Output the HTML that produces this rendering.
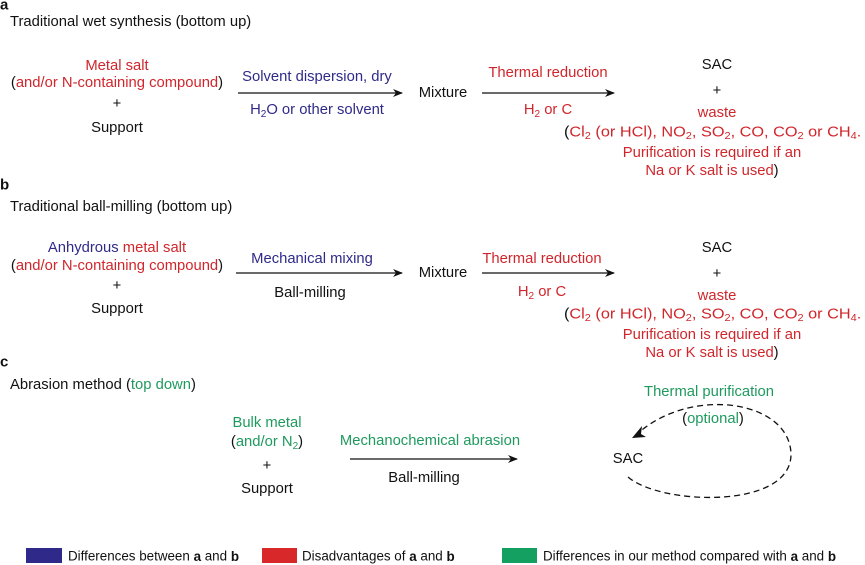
<!DOCTYPE html>
<html><head><meta charset="utf-8"><style>
html,body{margin:0;padding:0;background:#fff;}
svg{display:block;font-family:"Liberation Sans",Arial,sans-serif;font-size:14.8px;}
.r{fill:#d0262b}.b{fill:#2f2a8a}.g{fill:#1f9a5e}.k{fill:#111}
text{dominant-baseline:central}
.m{text-anchor:middle}
</style></head><body>
<svg width="865" height="565" viewBox="0 0 865 565">
<defs><marker id="ah" markerWidth="10" markerHeight="8" refX="9" refY="4" orient="auto" markerUnits="userSpaceOnUse"><path d="M0,0 L10,4 L0,8 L3,4z" fill="#111"/></marker></defs>
<!-- a -->
<text x="0" y="5" font-weight="bold" font-size="15" class="k">a</text>
<text x="10" y="22" class="k">Traditional wet synthesis (bottom up)</text>
<text x="117" y="66" class="m r">Metal salt</text>
<text x="117" y="83" class="m k">(<tspan class="r">and/or N-containing compound</tspan>)</text>
<text x="117" y="104" class="m k">+</text>
<text x="117" y="128" class="m k">Support</text>
<line x1="238" y1="93" x2="402" y2="93" stroke="#111" stroke-width="1.3" marker-end="url(#ah)"/>
<text x="317" y="77" class="m b">Solvent dispersion, dry</text>
<text x="317" y="110" class="m b">H<tspan font-size="10" dy="4">2</tspan><tspan dy="-4">O or other solvent</tspan></text>
<text x="443" y="93" class="m k">Mixture</text>
<line x1="482" y1="93" x2="614" y2="93" stroke="#111" stroke-width="1.3" marker-end="url(#ah)"/>
<text x="548" y="73" class="m r">Thermal reduction</text>
<text x="548" y="110" class="m r">H<tspan font-size="10" dy="4">2</tspan><tspan dy="-4"> or C</tspan></text>
<text x="717" y="65" class="m k">SAC</text>
<text x="717" y="91" class="m k">+</text>
<text x="717" y="113" class="m r">waste</text>
<g transform="translate(564,0) scale(1.1,1)">
<text x="0" y="132" class="k">(<tspan class="r">Cl<tspan font-size="10" dy="4">2</tspan><tspan dy="-4"> (or HCl), NO</tspan><tspan font-size="10" dy="4">2</tspan><tspan dy="-4">, SO</tspan><tspan font-size="10" dy="4">2</tspan><tspan dy="-4">, CO, CO</tspan><tspan font-size="10" dy="4">2</tspan><tspan dy="-4"> or CH</tspan><tspan font-size="10" dy="4">4</tspan><tspan dy="-4">.</tspan></tspan></text>
</g>
<text x="712" y="153" class="m r">Purification is required if an</text>
<text x="712" y="171" class="m r">Na or K salt is used<tspan class="k">)</tspan></text>
<!-- b -->
<text x="0" y="185" font-weight="bold" font-size="15" class="k">b</text>
<text x="10" y="207" class="k">Traditional ball-milling (bottom up)</text>
<text x="117" y="248" class="m b">Anhydrous <tspan class="r">metal salt</tspan></text>
<text x="117" y="266" class="m k">(<tspan class="r">and/or N-containing compound</tspan>)</text>
<text x="117" y="286" class="m k">+</text>
<text x="117" y="309" class="m k">Support</text>
<line x1="236" y1="273" x2="402" y2="273" stroke="#111" stroke-width="1.3" marker-end="url(#ah)"/>
<text x="312" y="259" class="m b">Mechanical mixing</text>
<text x="310" y="293" class="m k">Ball-milling</text>
<text x="443" y="273" class="m k">Mixture</text>
<line x1="482" y1="273" x2="614" y2="273" stroke="#111" stroke-width="1.3" marker-end="url(#ah)"/>
<text x="542" y="259" class="m r">Thermal reduction</text>
<text x="542" y="292" class="m r">H<tspan font-size="10" dy="4">2</tspan><tspan dy="-4"> or C</tspan></text>
<text x="717" y="248" class="m k">SAC</text>
<text x="717" y="274" class="m k">+</text>
<text x="717" y="296" class="m r">waste</text>
<g transform="translate(564,0) scale(1.1,1)">
<text x="0" y="314" class="k">(<tspan class="r">Cl<tspan font-size="10" dy="4">2</tspan><tspan dy="-4"> (or HCl), NO</tspan><tspan font-size="10" dy="4">2</tspan><tspan dy="-4">, SO</tspan><tspan font-size="10" dy="4">2</tspan><tspan dy="-4">, CO, CO</tspan><tspan font-size="10" dy="4">2</tspan><tspan dy="-4"> or CH</tspan><tspan font-size="10" dy="4">4</tspan><tspan dy="-4">.</tspan></tspan></text>
</g>
<text x="712" y="335" class="m r">Purification is required if an</text>
<text x="712" y="353" class="m r">Na or K salt is used<tspan class="k">)</tspan></text>
<!-- c -->
<text x="0" y="362" font-weight="bold" font-size="15" class="k">c</text>
<text x="10" y="385" class="k">Abrasion method (<tspan class="g">top down</tspan>)</text>
<text x="267" y="423" class="m g">Bulk metal</text>
<text x="267" y="442" class="m k">(<tspan class="g">and/or N<tspan font-size="10" dy="4">2</tspan></tspan><tspan dy="-4">)</tspan></text>
<text x="267" y="466" class="m k">+</text>
<text x="267" y="489" class="m k">Support</text>
<line x1="350" y1="459" x2="517" y2="459" stroke="#111" stroke-width="1.3" marker-end="url(#ah)"/>
<text x="430" y="441" class="m g">Mechanochemical abrasion</text>
<text x="424" y="478" class="m k">Ball-milling</text>
<text x="628" y="459" class="m k">SAC</text>
<text x="709" y="392" class="m g">Thermal purification</text>
<text x="713" y="419" class="m k">(<tspan class="g">optional</tspan>)</text>
<path d="M628,477 C660,505 790,510 791,455 C791,400 690,385 636,435" fill="none" stroke="#111" stroke-width="1.3" stroke-dasharray="6,4"/>
<path d="M632,438 L642,426 L641,434 L646,437z" fill="#111"/>
<!-- legend -->
<rect x="26" y="548" width="36" height="15" fill="#2f2a8a"/>
<text x="68" y="556" class="k" font-size="13.4">Differences between <tspan font-weight="bold">a</tspan> and <tspan font-weight="bold">b</tspan></text>
<rect x="262" y="548" width="35" height="15" fill="#d8282a"/>
<text x="302" y="556" class="k" font-size="13.4">Disadvantages of <tspan font-weight="bold">a</tspan> and <tspan font-weight="bold">b</tspan></text>
<rect x="502" y="548" width="35" height="15" fill="#14a060"/>
<text x="543" y="556" class="k" font-size="13.4">Differences in our method compared with <tspan font-weight="bold">a</tspan> and <tspan font-weight="bold">b</tspan></text>
</svg>
</body></html>
